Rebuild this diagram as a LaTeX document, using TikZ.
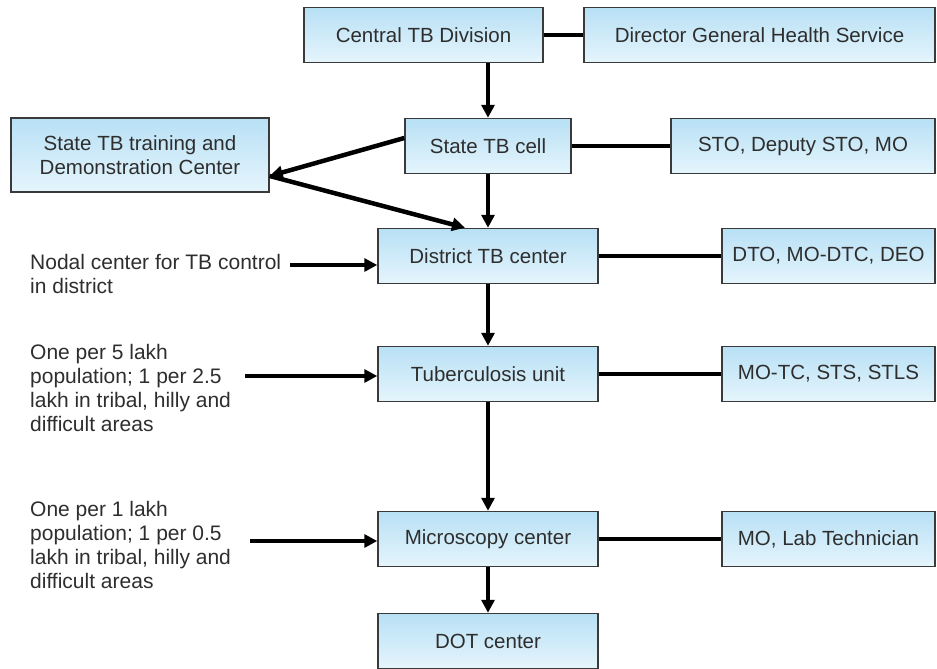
\documentclass[tikz,border=0pt]{standalone}
\usepackage{fontspec}
\setmainfont{Liberation Sans}
\usepackage{xcolor}
\definecolor{boxTop}{HTML}{B8E0F5}
\definecolor{boxBottom}{HTML}{E5F5FC}
\definecolor{boxLine}{HTML}{3A3A3A}
\definecolor{txtDark}{HTML}{2E2E2E}
\usetikzlibrary{arrows.meta}

\begin{document}
\begin{tikzpicture}[x=1pt, y=-1pt,
  level/.style={rectangle, draw=boxLine, line width=1.5pt, top color=boxTop, bottom color=boxBottom,
    minimum height=55pt, inner sep=2pt, text=txtDark, font=\fontsize{20.5}{24}\selectfont},
  note/.style={anchor=north west, align=left, inner sep=0pt, text=txtDark, font=\fontsize{21}{24}\selectfont},
  link/.style={line width=4.5pt, line cap=butt},
  arr/.style={line width=4.5pt, -{Triangle[length=13pt, width=13pt]}}]
  \useasboundingbox (0,0) rectangle (937,669);
  \node[level, minimum width=239pt] (ctd) at (423.5,35) {Central TB Division};
  \node[level, minimum width=351pt] (dghs) at (759.5,35) {Director General Health Service};
  \node[level, minimum width=166pt] (stc) at (488,146) {State TB cell};
  \node[level, minimum width=258pt, minimum height=74pt, align=center] (stdc) at (140,155) {State TB training and\\Demonstration Center};
  \node[level, minimum width=264pt] (sto) at (803,146) {STO, Deputy STO, MO};
  \node[level, minimum width=220pt] (dtc) at (488,256) {District TB center};
  \node[level, minimum width=213pt] (dto) at (828.5,256) {DTO, MO-DTC, DEO};
  \node[level, minimum width=220pt] (tu) at (488,374) {Tuberculosis unit};
  \node[level, minimum width=213pt] (motc) at (828.5,374) {MO-TC, STS, STLS};
  \node[level, minimum width=220pt] (mc) at (488,539) {Microscopy center};
  \node[level, minimum width=213pt] (molab) at (828.5,539) {MO, Lab Technician};
  \node[level, minimum width=220pt] (dot) at (488,641) {DOT center};
  \node[note] (nodal) at (30,254) {Nodal center for TB control\\in district};
  \node[note] (tunote) at (30,344) {One per 5 lakh\\population; 1 per 2.5\\lakh in tribal, hilly and\\difficult areas};
  \node[note] (mcnote) at (30,501) {One per 1 lakh\\population; 1 per 0.5\\lakh in tribal, hilly and\\difficult areas};
  \coordinate (fork) at ([yshift=-21pt]stdc.east);
  \coordinate (n1) at (290,265);
  \coordinate (n2) at (245,376);
  \coordinate (n3) at (250,541);
  \draw[link] (ctd) -- (dghs);
  \draw[link] (stc) -- (sto);
  \draw[link] (dtc) -- (dto);
  \draw[link] (tu) -- (motc);
  \draw[link] (mc) -- (molab);
  \draw[arr] (stc.north |- ctd.south) -- (stc.north);
  \draw[arr] (stc) -- (dtc);
  \draw[arr] (dtc) -- (tu);
  \draw[arr] (tu) -- (mc);
  \draw[arr] (mc) -- (dot);
  \draw[arr] ([yshift=8pt]stc.west) -- (fork);
  \draw[arr] (fork) -- ([xshift=-23pt]dtc.north);
  \draw[arr] (n1) -- (n1 -| dtc.west);
  \draw[arr] (n2) -- (n2 -| tu.west);
  \draw[arr] (n3) -- (n3 -| mc.west);
\end{tikzpicture}
\end{document}
